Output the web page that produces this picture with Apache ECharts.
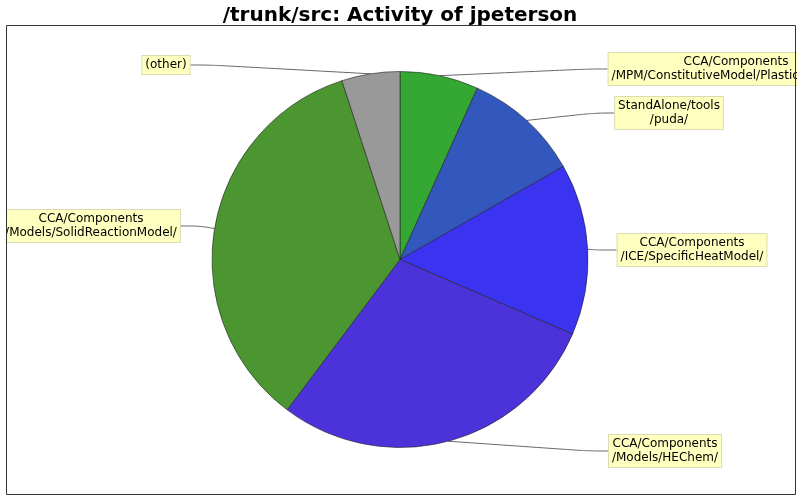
<!DOCTYPE html>
<html>
<head>
<meta charset="utf-8">
<script src="https://cdn.jsdelivr.net/npm/echarts@6/dist/echarts.min.js"></script>
<style>
  html, body { margin: 0; padding: 0; background: #fff; }
  #main { width: 800px; height: 500px; }
</style>
</head>
<body>
<div id="main"></div>
<script>
// directories and their share of activity (clockwise from 12 o'clock)
let dirs = [
    "CCA/Components\n/MPM/ConstitutiveModel/PlasticityModels/",
    "StandAlone/tools\n/puda/",
    "CCA/Components\n/ICE/SpecificHeatModel/",
    "CCA/Components\n/Models/HEChem/",
    "CCA/Components\n/Models/SolidReactionModel/",
    "(other)"
];
let commits = [27, 40, 59, 115, 139, 20];
let colors = ["#35a834", "#3258bd", "#3a33f0", "#4b33d9", "#4c9632", "#999999"];

// where each label box sits (centre of the box)
let labelPos = [
    [736, 69],
    [669, 113],
    [692, 250],
    [665, 451],
    [91, 226],
    [166, 65]
];

var dom = document.getElementById("main");
var myChart = echarts.init(dom);
var option;

option = {
    animation: false,
    textStyle: { fontFamily: "DejaVu Sans" },
    title: {
        text: "/trunk/src: Activity of jpeterson",
        left: "center",
        top: 1,
        textStyle: { fontFamily: "DejaVu Sans", fontWeight: "bold", fontSize: 20, color: "#000" }
    },
    graphic: [
        {
            type: "rect",
            zlevel: 1,
            shape: { x: 6.5, y: 25.5, width: 789, height: 469 },
            style: { fill: "none", stroke: "#333", lineWidth: 1 }
        },
        // mask anything spilling past the plot frame
        {
            type: "rect",
            zlevel: 1,
            shape: { x: 797, y: 0, width: 10, height: 500 },
            style: { fill: "#fff" }
        },
        {
            type: "rect",
            zlevel: 1,
            shape: { x: 0, y: 26, width: 6, height: 468 },
            style: { fill: "#fff" }
        }
    ],
    series: [{
        type: "pie",
        center: [400, 259.5],
        radius: 188,
        startAngle: 90,
        clockwise: true,
        avoidLabelOverlap: false,
        data: dirs.map((d, i) => ({
            name: d,
            value: commits[i],
            itemStyle: { color: colors[i] }
        })),
        itemStyle: { borderColor: "#222", borderWidth: 0.6 },
        label: {
            show: true,
            formatter: "{b}",
            color: "#000",
            fontSize: 12,
            fontFamily: "DejaVu Sans",
            lineHeight: 14,
            align: "center",
            backgroundColor: "#ffffc0",
            borderColor: "#dcdcb4",
            borderWidth: 1,
            padding: [2, 3, 2, 3]
        },
        labelLine: {
            show: true,
            smooth: 0.4,
            length: 20,
            length2: 20,
            lineStyle: { color: "#666", width: 1 }
        },
        labelLayout: function (p) {
            let pos = labelPos[p.dataIndex];
            return {
                x: pos[0],
                y: pos[1],
                align: "center",
                verticalAlign: "middle"
            };
        }
    }]
};

if (option && typeof option === 'object') {
    myChart.setOption(option);
}
</script>
</body>
</html>
